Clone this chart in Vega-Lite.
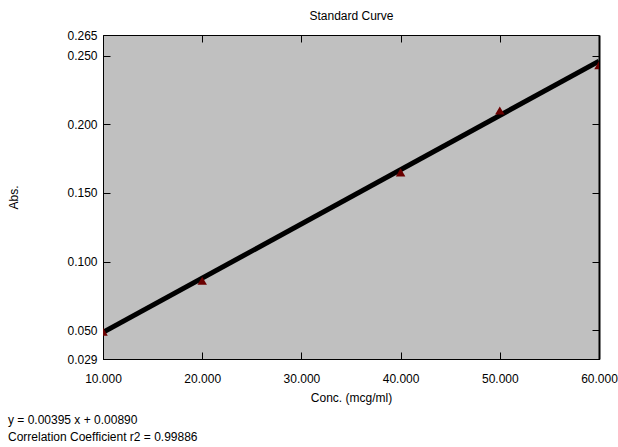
{
  "$schema": "https://vega.github.io/schema/vega-lite/v6.json",
  "width": 496,
  "height": 324,
  "autosize": {"type": "none"},
  "padding": {"left": 103, "top": 35, "right": 19, "bottom": 88},
  "background": "white",
  "title": {
    "text": ["y = 0.00395 x + 0.00890", "Correlation Coefficient r2 = 0.99886"],
    "orient": "bottom",
    "anchor": "start",
    "frame": "bounds",
    "fontSize": 12,
    "fontWeight": "normal",
    "font": "Liberation Sans",
    "color": "black",
    "offset": 12,
    "lineHeight": 17
  },
  "config": {
    "view": {"fill": "#c0c0c0", "stroke": "black", "strokeWidth": 1},
    "font": "Liberation Sans",
    "axis": {
      "labelFont": "Liberation Sans",
      "titleFont": "Liberation Sans",
      "labelFontSize": 12,
      "titleFontSize": 12,
      "titleFontWeight": "normal",
      "labelColor": "black",
      "titleColor": "black",
      "domainColor": "black",
      "tickColor": "black",
      "grid": false
    }
  },
  "data": {
    "values": [
      {"series": "fit", "conc": 10, "abs": 0.0484},
      {"series": "fit", "conc": 60, "abs": 0.2459},
      {"series": "std", "conc": 10, "abs": 0.049},
      {"series": "std", "conc": 20, "abs": 0.086},
      {"series": "std", "conc": 40, "abs": 0.165},
      {"series": "std", "conc": 50, "abs": 0.210},
      {"series": "std", "conc": 60, "abs": 0.243}
    ]
  },
  "layer": [
    {
      "transform": [{"filter": "datum.series == 'fit'"}],
      "mark": {"type": "line", "color": "black", "strokeWidth": 5, "clip": true},
      "encoding": {
        "x": {
          "field": "conc", "type": "quantitative",
          "scale": {"domain": [10, 60], "nice": false, "zero": false},
          "axis": {
            "orient": "bottom", "title": "Conc. (mcg/ml)", "format": ".3f",
            "values": [10, 20, 30, 40, 50, 60], "tickSize": -7, "tickWidth": 1,
            "labelPadding": 21, "titlePadding": 8, "domainWidth": 1,
            "labelFlush": false
          }
        },
        "y": {
          "field": "abs", "type": "quantitative",
          "scale": {"domain": [0.029, 0.265], "nice": false, "zero": false},
          "axis": {
            "orient": "left", "title": "Abs.", "format": ".3f",
            "values": [0.029, 0.05, 0.1, 0.15, 0.2, 0.25, 0.265], "tickSize": -7,
            "labelPadding": 13, "titlePadding": 46, "domainWidth": 1,
            "labelFlush": false
          }
        }
      }
    },
    {
      "transform": [{"filter": "datum.series == 'std'"}],
      "mark": {"type": "point", "shape": "triangle-up", "filled": true, "color": "#6b0000", "size": 90, "opacity": 1, "clip": true},
      "encoding": {
        "x": {
          "field": "conc", "type": "quantitative",
          "axis": {
            "orient": "top", "title": "Standard Curve", "labels": false,
            "values": [20, 30, 40, 50], "tickSize": -7, "titlePadding": 12,
            "domain": false
          }
        },
        "y": {
          "field": "abs", "type": "quantitative",
          "axis": {
            "orient": "right", "title": null, "labels": false,
            "values": [0.05, 0.1, 0.15, 0.2, 0.25], "tickSize": -7,
            "domainWidth": 2
          }
        }
      }
    }
  ],
  "resolve": {"axis": {"x": "independent", "y": "independent"}}
}
